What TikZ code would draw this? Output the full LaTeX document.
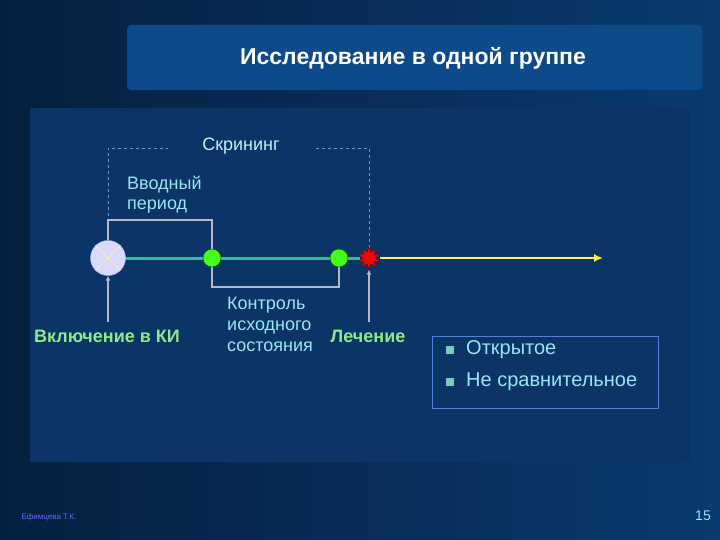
\documentclass[tikz,border=0pt]{standalone}
\usepackage{fontspec}
\setmainfont{Liberation Sans}
\usetikzlibrary{shapes.geometric,arrows.meta}
\definecolor{bgA}{HTML}{05203F}
\definecolor{bgB}{HTML}{0A3A70}
\definecolor{panel}{HTML}{0B3467}
\definecolor{titlebox}{HTML}{0D4A8A}
\definecolor{teal}{HTML}{3CB4A0}
\definecolor{cyantxt}{HTML}{9AE6F0}
\definecolor{greentxt}{HTML}{8EEA8E}
\definecolor{dashc}{HTML}{6A9AD0}
\definecolor{grayl}{HTML}{B4B8C8}
\definecolor{legend}{HTML}{5080E0}
\tikzset{
 lbl/.style={text=cyantxt,font=\fontsize{18}{20}\selectfont,align=left,inner sep=0pt},
 glbl/.style={text=greentxt,font=\bfseries\fontsize{18}{20}\selectfont,inner sep=0pt},
 dot/.style={circle,fill=green!75!lime!90!white,draw=black!70!green,minimum size=18pt,inner sep=0pt},
 dsh/.style={dashc,dashed,line width=0.8pt},
 brk/.style={grayl,line width=1.2pt},
 up/.style={grayl,line width=2pt,-{Latex[length=5pt,width=5pt]}}
}
\begin{document}
\begin{tikzpicture}[x=1pt,y=-1pt]
\useasboundingbox (0,0) rectangle (720,540);
\shade[left color=bgA,right color=bgB] (0,0) rectangle (720,540);
\fill[titlebox,rounded corners=4pt] (127,25) rectangle (702,90);
\node[text=white,font=\bfseries\fontsize{23}{25}\selectfont] (title) at (413,58) {Исследование в одной группе};
\fill[panel] (30,108) rectangle (690,462);
% brackets
\draw[dsh] (108,240) -- (108,148) -- (168,148);
\draw[dsh] (316,148) -- (369,148) -- (369,250);
\node[lbl,text=cyantxt!60!white] (scr) at (241,146) {Скрининг};
\draw[brk] (108,240) -- (108,220) -- (212,220) -- (212,250);
\draw[brk] (212,266) -- (212,287) -- (339,287) -- (339,266);
% timeline
\draw[teal,line width=3pt] (125,258) -- (360,258);
\draw[yellow!70!white,line width=2.5pt,-{Latex[length=9pt,width=8pt]}] (380,258) -- (603,258);
\node[circle,fill=blue!15!white,draw=white!70!blue,minimum size=35pt,inner sep=0pt] (inc) at (108,258) {};
\draw[yellow!50!white,line width=0.6pt] (inc.45) -- (inc.225) (inc.135) -- (inc.315);
\node[dot] (g1) at (212,258) {};
\node[dot] (g2) at (339,258) {};
\node[star,star points=10,star point ratio=1.8,fill=red,draw=red!50!black,minimum size=22pt,inner sep=0pt] (tr) at (369,258) {};
\coordinate (a1) at (108,322);
\coordinate (a2) at (369,322);
\draw[up] (a1) -- (inc.south);
\draw[up] (a2) -- (tr.south);
\node[lbl,anchor=north west] (vp) at (127,176) {Вводный\\период};
\node[glbl] (ki) at (107,336) {Включение в КИ};
\node[lbl,anchor=north west,font=\fontsize{18}{21}\selectfont] (ctl) at (227,297) {Контроль\\исходного\\состояния};
\node[glbl] (tx) at (368,336) {Лечение};
\draw[legend,line width=1pt] (432,336) rectangle (658,408);
\fill[teal!70!white] (446,346) rectangle (454,354);
\fill[teal!70!white] (446,378) rectangle (454,386);
\node[lbl,anchor=west,font=\fontsize{20}{22}\selectfont] (o1) at (466,350) {Открытое};
\node[lbl,anchor=west,font=\fontsize{20}{22}\selectfont] (o2) at (466,382) {Не сравнительное};
\node[text=blue!60!white,font=\fontsize{8}{9}\selectfont,anchor=west] (au) at (18,517) {Ефимцева Т.К.};
\node[text=cyantxt,font=\fontsize{14}{15}\selectfont] (pg) at (703,516) {15};
\end{tikzpicture}
\end{document}
